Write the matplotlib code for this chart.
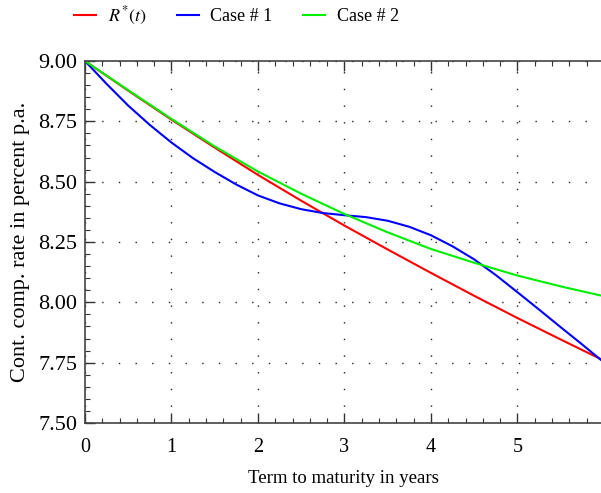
import matplotlib
matplotlib.use("Agg")
import matplotlib.pyplot as plt
from matplotlib.ticker import MultipleLocator, FormatStrFormatter

plt.rcParams['font.family'] = ['Liberation Serif', 'DejaVu Serif']
plt.rcParams['mathtext.fontset'] = 'stix'

t_half = [0.0, 0.5, 1.0, 1.5, 2.0, 2.5, 3.0, 3.5, 4.0, 4.5, 5.0, 5.5, 5.98]
r_star = [9.000, 8.877, 8.757, 8.641, 8.528, 8.421, 8.318, 8.219, 8.122, 8.027,
          7.935, 7.846, 7.762]
case2 = [9.000, 8.879, 8.760, 8.646, 8.542, 8.450, 8.366, 8.290, 8.221, 8.164,
         8.111, 8.066, 8.027]

t_quarter = [0.0, 0.25, 0.5, 0.75, 1.0, 1.25, 1.5, 1.75, 2.0, 2.25, 2.5, 2.75, 3.0,
             3.25, 3.5, 3.75, 4.0, 4.25, 4.5, 4.75, 5.0, 5.25, 5.5, 5.75, 5.98]
case1 = [9.000, 8.905, 8.815, 8.735, 8.662, 8.597, 8.540, 8.488, 8.443, 8.410,
         8.386, 8.370, 8.361, 8.353, 8.338, 8.313, 8.278, 8.232, 8.178, 8.113,
         8.042, 7.970, 7.897, 7.825, 7.757]

labels = [r'$R^{*}(t)$', 'Case # 1', 'Case # 2']
colors = ['#ff0000', '#0000ff', '#00ee00']

fig = plt.figure(figsize=(6.01, 4.93), dpi=100)
ax = fig.add_axes([85/601, 1-423/493, 1-85/601+0.002, (423-61)/493])

for tt, y, lab, c in zip([t_half, t_quarter, t_half], [r_star, case1, case2],
                         labels, colors):
    ax.plot(tt, y, color=c, lw=1.5, label=lab)

ax.set_xlim(0, 5.98)
ax.set_ylim(7.5, 9.0)
ax.xaxis.set_major_locator(MultipleLocator(1))
ax.xaxis.set_minor_locator(MultipleLocator(0.2))
ax.yaxis.set_major_locator(MultipleLocator(0.25))
ax.yaxis.set_minor_locator(MultipleLocator(0.05))
ax.yaxis.set_major_formatter(FormatStrFormatter('%.2f'))
ax.tick_params(which='both', direction='in', top=True, right=False,
               color='#333333')
ax.tick_params(which='major', length=7, width=1)
ax.tick_params(which='minor', length=3.5, width=0.8)
ax.tick_params(axis='x', labelsize=14.5, pad=11)
ax.tick_params(axis='y', labelsize=16, pad=5.5)
ax.grid(True, which='major', color='#222222', linestyle=(0, (1, 11)), lw=1.0)
ax.spines['right'].set_visible(False)
for s in ['left', 'bottom', 'top']:
    ax.spines[s].set_color('#444444')
    ax.spines[s].set_linewidth(1.2)

ax.set_xlabel('Term to maturity in years', fontsize=13.5, labelpad=9)
ax.set_ylabel('Cont. comp. rate in percent p.a.', fontsize=16, labelpad=6)

fig.legend(loc='center left', bbox_to_anchor=(58/601, 1-16/493), ncol=3,
           frameon=False, fontsize=13, handlelength=1.2, handletextpad=0.65,
           columnspacing=1.7)

fig.savefig('out.png', dpi=100)
